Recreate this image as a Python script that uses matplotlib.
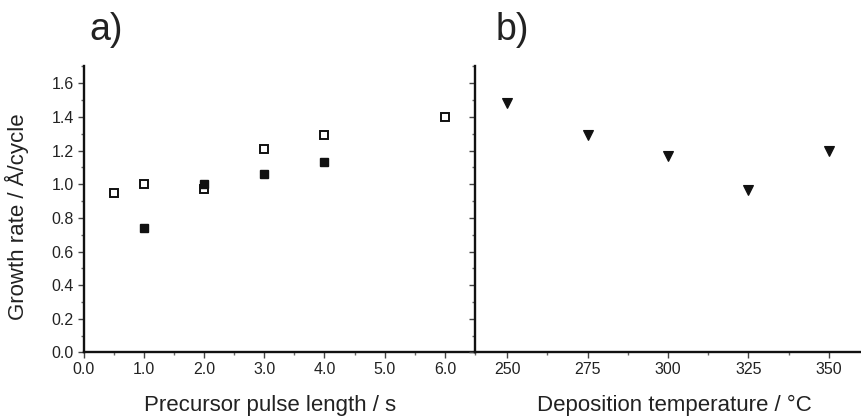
import matplotlib.pyplot as plt
from matplotlib.ticker import MultipleLocator, FormatStrFormatter

# data
pulse_open = [0.5, 1.0, 2.0, 3.0, 4.0, 6.0]
rate_open = [0.95, 1.00, 0.97, 1.21, 1.29, 1.40]
pulse_filled = [1.0, 2.0, 3.0, 4.0]
rate_filled = [0.74, 1.00, 1.06, 1.13]
temps = [250, 275, 300, 325, 350]
rate_temp = [1.48, 1.29, 1.17, 0.965, 1.195]

font = 'Liberation Sans'
txt = '#222222'

fig = plt.figure(figsize=(8.61, 4.17), dpi=100)
ax1 = fig.add_axes([0.097, 0.1547, 0.4547, 0.686])
ax2 = fig.add_axes([0.5517, 0.1547, 0.4483, 0.686])

ax1.plot(pulse_open, rate_open, ls='none', marker='s', ms=6.0, mfc='white',
         mec='#111111', mew=1.4, zorder=3)
ax1.plot(pulse_filled, rate_filled, ls='none', marker='s', ms=6.0, mfc='#111111',
         mec='#111111', mew=1.0, zorder=4)
ax2.plot(temps, rate_temp, ls='none', marker='v', ms=7.5, mfc='#111111',
         mec='#111111', mew=0.8)

ax1.set_xlim(0, 6.5)
ax2.set_xlim(240, 360)

ax1.xaxis.set_major_locator(MultipleLocator(1.0))
ax1.xaxis.set_minor_locator(MultipleLocator(0.5))
ax1.xaxis.set_major_formatter(FormatStrFormatter('%.1f'))
ax1.yaxis.set_major_formatter(FormatStrFormatter('%.1f'))

ax2.set_xticks(temps)
ax2.xaxis.set_minor_locator(MultipleLocator(12.5))

for ax in (ax1, ax2):
    ax.set_ylim(0, 1.7)
    ax.yaxis.set_major_locator(MultipleLocator(0.2))
    ax.yaxis.set_minor_locator(MultipleLocator(0.1))
    ax.spines['top'].set_visible(False)
    ax.spines['right'].set_visible(False)
    ax.spines['left'].set_linewidth(1.7)
    ax.spines['bottom'].set_linewidth(1.7)
    ax.spines['left'].set_color('#111111')
    ax.spines['bottom'].set_color('#111111')
    ax.tick_params(which='major', direction='out', length=4, width=1.0, color='#444444', pad=3)
    ax.tick_params(which='minor', direction='out', length=2.5, width=1.0, color='#666666')
    for lab in ax.get_xticklabels() + ax.get_yticklabels():
        lab.set_fontfamily(font)
        lab.set_fontsize(11.5)
        lab.set_color(txt)

ax2.tick_params(axis='y', labelleft=False)

ax1.set_ylabel('Growth rate / Å/cycle', fontfamily=font, fontsize=16, color=txt)
ax1.yaxis.set_label_coords(-0.14, 0.474)
ax1.set_xlabel('Precursor pulse length / s', fontfamily=font, fontsize=16, color=txt, labelpad=13)
ax2.set_xlabel('Deposition temperature / °C', fontfamily=font, fontsize=16, color=txt, labelpad=13)
ax1.xaxis.label.set_x(0.476)
ax2.xaxis.label.set_x(0.516)

fig.text(89 / 861, 1 - 30 / 417, 'a)', fontfamily=font, fontsize=27, ha='left', va='center', color=txt)
fig.text(496 / 861, 1 - 30 / 417, 'b)', fontfamily=font, fontsize=27, ha='left', va='center', color=txt)

fig.savefig('out.png', dpi=100)
